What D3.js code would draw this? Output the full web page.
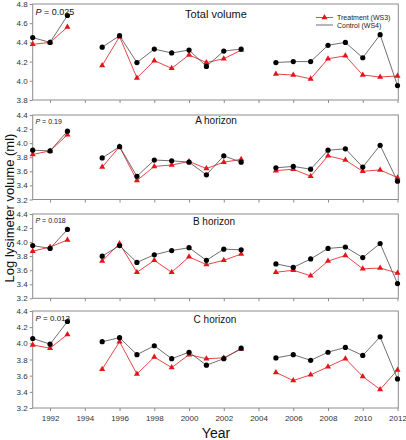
<!DOCTYPE html>
<html><head><meta charset="utf-8">
<script src="https://cdn.jsdelivr.net/npm/d3@7"></script>
<style>
body{margin:0;background:#fff;}
svg{font-family:"Liberation Sans",Arial,sans-serif;display:block;}
</style></head>
<body><svg id="c" width="406" height="440"></svg>
<script>
const years = [1991,1992,1993,1994,1995,1996,1997,1998,1999,2000,2001,2002,2003,2004,2005,2006,2007,2008,2009,2010,2011,2012];
const xTicks = [1992,1994,1996,1998,2000,2002,2004,2006,2008,2010,2012];
const panelTitles = ["Total volume","A horizon","B horizon","C horizon"];
const pValues = ["0.025","0.19","0.018","0.013"];
const yDomains = [[3.8,4.8],[3.2,4.4],[3.2,4.4],[3.2,4.4]];
const yTicks1 = [3.8,4.0,4.2,4.4,4.6,4.8];
const yTicksH = [3.2,3.4,3.6,3.8,4.0,4.2,4.4];
const seriesNames = ["Treatment (WS3)","Control (WS4)"];

// Total volume
const totalTreatment = [4.38,4.40,4.56,null,4.16,4.46,4.03,4.21,4.13,4.27,4.19,4.23,4.32,null,4.07,4.06,4.02,4.23,4.26,4.06,4.04,4.05];
const totalControl   = [4.45,4.40,4.68,null,4.35,4.47,4.19,4.33,4.29,4.32,4.15,4.31,4.33,null,4.19,4.20,4.20,4.37,4.40,4.24,4.48,3.95];
// A horizon
const aTreatment = [3.84,3.89,4.12,null,3.66,3.95,3.47,3.67,3.69,3.74,3.64,3.73,3.77,null,3.61,3.63,3.53,3.82,3.76,3.60,3.62,3.51];
const aControl   = [3.90,3.89,4.17,null,3.79,3.95,3.53,3.76,3.75,3.73,3.55,3.82,3.73,null,3.65,3.67,3.63,3.90,3.92,3.66,3.97,3.46];
// B horizon
const bTreatment = [3.87,3.93,4.03,null,3.73,3.98,3.57,3.74,3.57,3.79,3.68,3.74,3.83,null,3.57,3.60,3.52,3.73,3.81,3.62,3.63,3.56];
const bControl   = [3.95,3.91,4.18,null,3.80,3.95,3.71,3.82,3.88,3.92,3.74,3.90,3.89,null,3.69,3.64,3.76,3.91,3.93,3.78,3.98,3.41];
// C horizon
const cTreatment = [3.98,3.94,4.11,null,3.68,4.02,3.62,3.83,3.70,3.86,3.81,3.82,3.93,null,3.64,3.54,3.61,3.71,3.81,3.59,3.43,3.67];
const cControl   = [4.06,3.99,4.27,null,4.02,4.07,3.86,3.97,3.81,3.89,3.73,3.81,3.94,null,3.82,3.86,3.79,3.89,3.95,3.85,4.08,3.56];

const treatments = [totalTreatment,aTreatment,bTreatment,cTreatment];
const controls = [totalControl,aControl,bControl,cControl];

const svg = d3.select("#c");
const panelRanges = [[4,100],[115,199.5],[214,298.3],[311,408]];
const x = d3.scaleLinear().domain([1991,2012]).range([32.7,397.5]);
const frameColor = "#8c8c8c";
const red = "#e3151b";
const triSize = 16;

panelRanges.forEach((pr,i)=>{
  const y = d3.scaleLinear().domain(yDomains[i]).range([pr[1],pr[0]]);
  const g = svg.append("g");
  g.append("rect").attr("x",x(1991)).attr("y",pr[0]).attr("width",398.3-x(1991)).attr("height",pr[1]-pr[0])
    .attr("fill","none").attr("stroke",frameColor).attr("stroke-width",1);
  const ya = g.append("g").attr("transform",`translate(${x(1991)},0)`)
    .call(d3.axisLeft(y).tickValues(i===0?yTicks1:yTicksH).tickFormat(d3.format(".1f")).tickSize(3).tickPadding(2));
  ya.select(".domain").remove();
  ya.selectAll("line").attr("stroke",frameColor);
  ya.selectAll("text").attr("font-size",8).attr("fill","#333").attr("font-family","Liberation Sans, Arial");
  const xa = g.append("g").attr("transform",`translate(0,${pr[1]})`)
    .call(d3.axisBottom(x).tickValues(xTicks).tickFormat(d3.format("d")).tickSize(3).tickPadding(4));
  xa.select(".domain").remove();
  xa.selectAll("line").attr("stroke",frameColor);
  if(i===3){ xa.selectAll("text").attr("font-size",8).attr("fill","#333").attr("font-family","Liberation Sans, Arial"); }
  else xa.selectAll("text").remove();

  const line = d3.line().defined(d=>d[1]!==null).x(d=>x(d[0])).y(d=>y(d[1]));
  const tData = years.map((yr,k)=>[yr,treatments[i][k]]);
  const cData = years.map((yr,k)=>[yr,controls[i][k]]);
  g.append("path").attr("d",line(tData)).attr("fill","none").attr("stroke",red).attr("stroke-width",0.8);
  g.selectAll(".tri").data(tData.filter(d=>d[1]!==null)).enter().append("path")
    .attr("d",d3.symbol().type(d3.symbolTriangle).size(triSize))
    .attr("transform",d=>`translate(${x(d[0])},${y(d[1])})`).attr("fill",red);
  g.append("path").attr("d",line(cData)).attr("fill","none").attr("stroke","#4a4a4a").attr("stroke-width",0.8);
  g.selectAll(".dot").data(cData.filter(d=>d[1]!==null)).enter().append("circle")
    .attr("cx",d=>x(d[0])).attr("cy",d=>y(d[1])).attr("r",2.6).attr("fill","#000");

  const titleY = [18,124,225,323][i];
  g.append("text").attr("x",[216,216,214,215][i]).attr("y",titleY).attr("text-anchor","middle")
    .attr("font-size",i===0?11:10).attr("fill","#111").text(panelTitles[i]);
  const pSize = [9,7,7,8][i];
  const pt = g.append("text").attr("x",35.5).attr("y",pr[0]+pSize+1.5).attr("font-size",pSize).attr("fill","#111");
  pt.append("tspan").attr("font-style","italic").text("P");
  pt.append("tspan").text(" = "+pValues[i]);
});

// legend
const lg = svg.append("g");
[[red,"tri",17.5],["#4a4a4a","dot",25]].forEach((s,k)=>{
  lg.append("line").attr("x1",316).attr("x2",333).attr("y1",s[2]).attr("y2",s[2]).attr("stroke",s[0]).attr("stroke-width",0.8);
  if(s[1]==="tri") lg.append("path").attr("d",d3.symbol().type(d3.symbolTriangle).size(triSize)()).attr("transform",`translate(324.5,${s[2]})`).attr("fill",red);
  lg.append("text").attr("x",337).attr("y",s[2]+2.5).attr("font-size",7).attr("fill","#222").text(seriesNames[k]);
});

svg.append("text").attr("x",216).attr("y",438).attr("text-anchor","middle").attr("font-size",14).attr("fill","#111").text("Year");
svg.append("text").attr("transform","translate(14,208) rotate(-90)").attr("text-anchor","middle").attr("font-size",13).attr("fill","#111").text("Log lysimeter volume (ml)");
</script></body></html>
